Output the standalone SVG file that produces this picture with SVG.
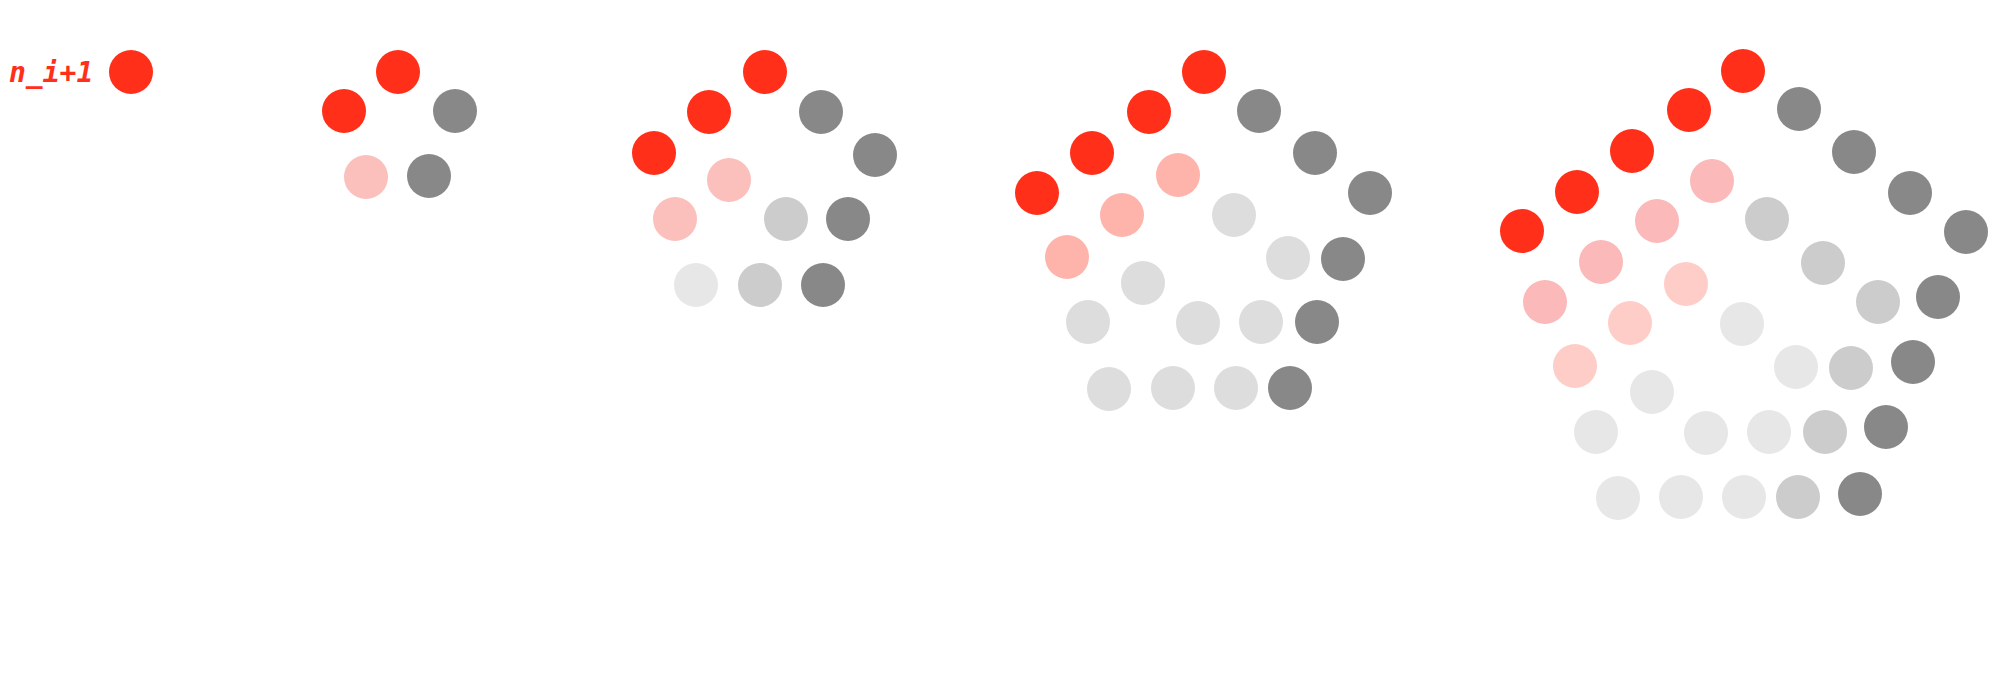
<svg xmlns="http://www.w3.org/2000/svg" width="1999" height="680" viewBox="0 0 1999 680">
<style>
circle{stroke:none}
.r{fill:#ff2f1a}
.g{fill:#888888}
.p{fill:#fbbfbc}
.s{fill:#feb4ab}
.p5{fill:#fbb9b9}
.q{fill:#fecdc7}
.m{fill:#cccccc}
.l{fill:#dddddd}
.v{fill:#e7e7e7}
.lbl{font-family:"DejaVu Sans Mono","Liberation Mono",monospace;font-style:italic;font-weight:bold;font-size:28px;fill:#ff2f1a}
</style>
<rect width="1999" height="680" fill="#ffffff"/>
<g id="fig1">
<text class="lbl" x="9" y="82">n_i+1</text>
<circle class="r" cx="131" cy="72" r="22"/>
</g>
<g id="fig2">
<circle class="r" cx="398" cy="72" r="22"/>
<circle class="r" cx="344" cy="111" r="22"/>
<circle class="g" cx="455" cy="111" r="22"/>
<circle class="p" cx="366" cy="177" r="22"/>
<circle class="g" cx="429" cy="176" r="22"/>
</g>
<g id="fig3">
<circle class="r" cx="765" cy="72" r="22"/>
<circle class="r" cx="709" cy="112" r="22"/>
<circle class="r" cx="654" cy="153" r="22"/>
<circle class="g" cx="821" cy="112" r="22"/>
<circle class="g" cx="875" cy="155" r="22"/>
<circle class="p" cx="729" cy="180" r="22"/>
<circle class="p" cx="675" cy="219" r="22"/>
<circle class="m" cx="786" cy="219" r="22"/>
<circle class="g" cx="848" cy="219" r="22"/>
<circle class="v" cx="696" cy="285" r="22"/>
<circle class="m" cx="760" cy="285" r="22"/>
<circle class="g" cx="823" cy="285" r="22"/>
</g>
<g id="fig4">
<circle class="r" cx="1204" cy="72" r="22"/>
<circle class="r" cx="1149" cy="112" r="22"/>
<circle class="r" cx="1092" cy="153" r="22"/>
<circle class="r" cx="1037" cy="193" r="22"/>
<circle class="g" cx="1259" cy="111" r="22"/>
<circle class="g" cx="1315" cy="153" r="22"/>
<circle class="g" cx="1370" cy="193" r="22"/>
<circle class="g" cx="1343" cy="259" r="22"/>
<circle class="g" cx="1317" cy="322" r="22"/>
<circle class="g" cx="1290" cy="388" r="22"/>
<circle class="s" cx="1178" cy="175" r="22"/>
<circle class="s" cx="1122" cy="215" r="22"/>
<circle class="s" cx="1067" cy="257" r="22"/>
<circle class="l" cx="1234" cy="215" r="22"/>
<circle class="l" cx="1288" cy="258" r="22"/>
<circle class="l" cx="1143" cy="283" r="22"/>
<circle class="l" cx="1088" cy="322" r="22"/>
<circle class="l" cx="1198" cy="323" r="22"/>
<circle class="l" cx="1261" cy="322" r="22"/>
<circle class="l" cx="1109" cy="389" r="22"/>
<circle class="l" cx="1173" cy="388" r="22"/>
<circle class="l" cx="1236" cy="388" r="22"/>
</g>
<g id="fig5">
<circle class="r" cx="1743" cy="71" r="22"/>
<circle class="r" cx="1689" cy="110" r="22"/>
<circle class="r" cx="1632" cy="151" r="22"/>
<circle class="r" cx="1577" cy="192" r="22"/>
<circle class="r" cx="1522" cy="231" r="22"/>
<circle class="g" cx="1799" cy="109" r="22"/>
<circle class="g" cx="1854" cy="152" r="22"/>
<circle class="g" cx="1910" cy="193" r="22"/>
<circle class="g" cx="1966" cy="232" r="22"/>
<circle class="g" cx="1938" cy="297" r="22"/>
<circle class="g" cx="1913" cy="362" r="22"/>
<circle class="g" cx="1886" cy="427" r="22"/>
<circle class="g" cx="1860" cy="494" r="22"/>
<circle class="p5" cx="1712" cy="181" r="22"/>
<circle class="p5" cx="1657" cy="221" r="22"/>
<circle class="p5" cx="1601" cy="262" r="22"/>
<circle class="p5" cx="1545" cy="302" r="22"/>
<circle class="q" cx="1686" cy="284" r="22"/>
<circle class="q" cx="1630" cy="323" r="22"/>
<circle class="q" cx="1575" cy="366" r="22"/>
<circle class="m" cx="1767" cy="219" r="22"/>
<circle class="m" cx="1823" cy="263" r="22"/>
<circle class="m" cx="1878" cy="302" r="22"/>
<circle class="m" cx="1851" cy="368" r="22"/>
<circle class="m" cx="1825" cy="432" r="22"/>
<circle class="m" cx="1798" cy="497" r="22"/>
<circle class="v" cx="1742" cy="324" r="22"/>
<circle class="v" cx="1796" cy="367" r="22"/>
<circle class="v" cx="1652" cy="392" r="22"/>
<circle class="v" cx="1596" cy="432" r="22"/>
<circle class="v" cx="1706" cy="433" r="22"/>
<circle class="v" cx="1769" cy="432" r="22"/>
<circle class="v" cx="1618" cy="498" r="22"/>
<circle class="v" cx="1681" cy="497" r="22"/>
<circle class="v" cx="1744" cy="497" r="22"/>
</g>
<g id="connectors"></g>
</svg>
